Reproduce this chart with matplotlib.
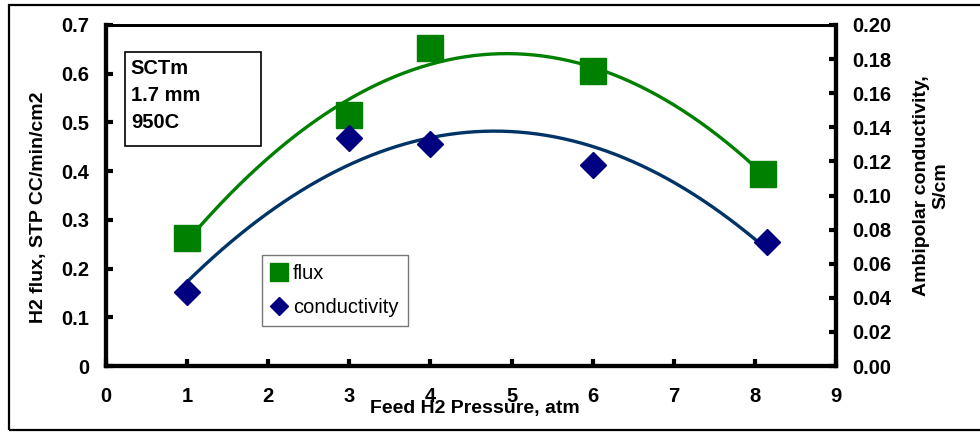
import numpy as np
import matplotlib
matplotlib.use("Agg")
from matplotlib import pyplot as plt
from matplotlib.patches import Rectangle

# data
flux_x = [1, 3, 4, 6, 8.1]
flux_y = [0.263, 0.515, 0.653, 0.606, 0.394]
cond_x = [1, 3, 4, 6, 8.15]
cond_y = [0.0434, 0.134, 0.130, 0.118, 0.073]
x_ticks = [0, 1, 2, 3, 4, 5, 6, 7, 8, 9]
left_ticks = [0, 0.1, 0.2, 0.3, 0.4, 0.5, 0.6, 0.7]
right_ticks = [0.00, 0.02, 0.04, 0.06, 0.08, 0.10, 0.12, 0.14, 0.16, 0.18, 0.20]
note_lines = ["SCTm", "1.7 mm", "950C"]

plt.rcParams["font.family"] = ["Liberation Sans", "DejaVu Sans"]

figure = plt.figure(figsize=(9.8, 4.32), dpi=100)
figure.patches.append(Rectangle((9 / 980, 2 / 432), 1.0, 425 / 432, transform=figure.transFigure,
                                fill=False, edgecolor="black", linewidth=1.6))

axes = figure.add_axes([106 / 980, 66 / 432, 730 / 980, 341 / 432])
axes2 = axes.twinx()

# quadratic trend lines (fit to the points, like a spreadsheet trendline)
xs = np.linspace(flux_x[0], flux_x[-1], 200)
p_flux = np.polyfit(flux_x, flux_y, 2)
axes.plot(xs, np.polyval(p_flux, xs), color="#008000", linewidth=2.4, zorder=2)
xs2 = np.linspace(cond_x[0], cond_x[-1], 200)
p_cond = np.polyfit(cond_x, cond_y, 2)
axes2.plot(xs2, np.polyval(p_cond, xs2), color="#003366", linewidth=2.4, zorder=2)

h1, = axes.plot(flux_x, flux_y, linestyle="none", marker="s", markersize=19,
                color="#008000", label="flux", zorder=3)
h2, = axes2.plot(cond_x, cond_y, linestyle="none", marker="D", markersize=13,
                 color="#000080", label="conductivity", zorder=3)

axes.set_xlim(0, 9)
axes.set_ylim(0, 0.7)
axes2.set_ylim(0, 0.2)
axes.set_xticks(x_ticks)
axes.set_yticks(left_ticks)
axes.set_yticklabels(["0" if v == 0 else f"{v:.1f}" for v in left_ticks])
axes2.set_yticks(right_ticks)
axes2.set_yticklabels([f"{v:.2f}" for v in right_ticks])

for ax in (axes, axes2):
    for side in ("left", "right", "bottom"):
        ax.spines[side].set_linewidth(3)
    ax.spines["top"].set_linewidth(2)
axes.tick_params(axis="both", direction="in", length=5, width=3, labelsize=14.5)
axes.tick_params(axis="y", pad=12)
axes.tick_params(axis="x", pad=15)
axes2.tick_params(axis="y", direction="in", length=5, width=3, labelsize=14.5, pad=12)
for lab in axes.get_xticklabels() + axes.get_yticklabels() + axes2.get_yticklabels():
    lab.set_fontweight("bold")

figure.text(38 / 980, 1 - 207 / 432, "H2 flux, STP CC/min/cm2", rotation=90,
            ha="center", va="center", fontsize=14, fontweight="bold")
figure.text(931 / 980, 1 - 186 / 432, "Ambipolar conductivity,\nS/cm", rotation=90,
            ha="center", va="center", fontsize=14, fontweight="bold", linespacing=1.2)
figure.text(475 / 980, 1 - 408 / 432, "Feed H2 Pressure, atm",
            ha="center", va="center", fontsize=14, fontweight="bold")

# note box
axes.add_patch(Rectangle((0.026, 0.645), 0.186, 0.276, transform=axes.transAxes,
                         facecolor="white", edgecolor="black", linewidth=1.2, zorder=4))
for i, line in enumerate(note_lines):
    axes.text(0.034, 0.871 - i * 0.079, line, transform=axes.transAxes, ha="left", va="center",
              fontsize=14.5, fontweight="bold", zorder=5)

leg = axes.legend(handles=[h1, h2], loc="lower left", bbox_to_anchor=(0.2135, 0.118),
                  fontsize=14.5, frameon=True, fancybox=False, markerscale=0.7,
                  handlelength=0.8, handletextpad=0.3, borderpad=0.45, labelspacing=0.75,
                  borderaxespad=0)
leg.get_frame().set_edgecolor("#555555")
leg.get_frame().set_linewidth(1.0)

figure.savefig("out.png", dpi=100)
